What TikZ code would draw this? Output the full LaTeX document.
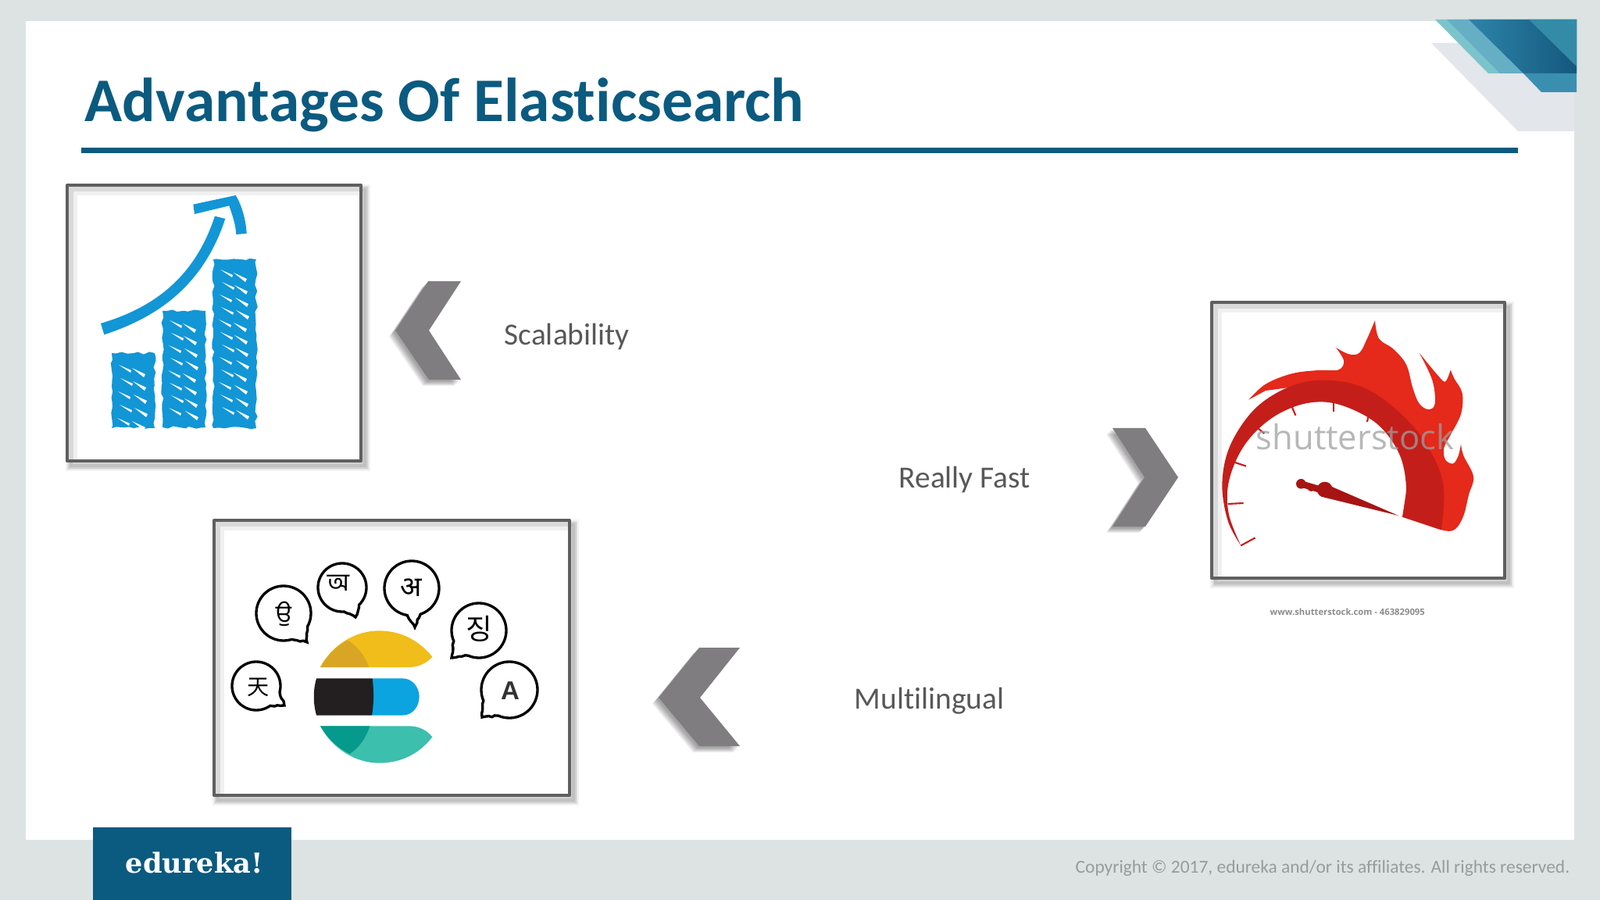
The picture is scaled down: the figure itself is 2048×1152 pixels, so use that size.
\documentclass[tikz,border=0pt]{standalone}
\usepackage{fontspec}
\setmainfont[Ligatures=NoCommon]{Carlito}
\newfontfamily\devafont[Script=Devanagari]{Noto Sans}
\newfontfamily\bengfont[Script=Bengali]{Hind Siliguri}
\newfontfamily\gurufont[Script=Gurmukhi]{Hind Jalandhar}
\newfontfamily\krfont{Noto Sans CJK KR}
\newfontfamily\scfont{Noto Sans CJK SC}
\newfontfamily\slabfont{DejaVu Serif}
\newfontfamily\wmfont{Open Sans}
\newfontfamily\arialfont{Liberation Sans}
\usetikzlibrary{decorations.pathmorphing}
\definecolor{pagebg}{HTML}{DDE3E3}
\definecolor{brand}{HTML}{0B5A80}
\definecolor{labelgray}{HTML}{58585A}
\definecolor{footgray}{HTML}{969C9C}
\definecolor{chevgray}{HTML}{7F7D80}
\definecolor{framegray}{HTML}{5F5F5F}
\definecolor{barblue}{HTML}{1296D6}
\definecolor{flamered}{HTML}{E5291A}
\definecolor{bandred}{HTML}{C41E1A}
\definecolor{needlered}{HTML}{A81414}
\definecolor{cornshadow}{HTML}{E3E6EA}
\definecolor{cornA}{HTML}{7CC4CC}
\definecolor{cornB}{HTML}{66AEC4}
\definecolor{cornC}{HTML}{2E84A9}
\definecolor{cornD}{HTML}{14587E}
\definecolor{cornE}{HTML}{3A8FB0}
\definecolor{cornF}{HTML}{338BA8}
\definecolor{esyellow}{HTML}{F0BD1A}
\definecolor{esamber}{HTML}{D8A624}
\definecolor{esblue}{HTML}{0BA4E0}
\definecolor{esblack}{HTML}{231F20}
\definecolor{esteal}{HTML}{3DBFAD}
\definecolor{esdteal}{HTML}{069A8D}
\tikzset{
  px/.style={x=0.01cm,y=-0.01cm},
  zoomed/.style={x=0.01cm/3,y=-0.01cm/3},
  txt/.style={inner sep=0pt,anchor=base west},
  lbl/.style={txt,text=labelgray,font=\fontsize{11.2}{13}\selectfont},
  tickline/.style={draw=bandred,line width=0.6pt},
  rough/.style={decorate,decoration={random steps,segment length=2pt,amplitude=0.5pt}},
  bubbleline/.style={draw=black,fill=white,line width=0.95pt,decorate,decoration={random steps,segment length=1.2pt,amplitude=0.3pt}},
}
% image frame: white ground, soft shadow, inner grey bands
\newcommand\framebase[4]{%
  \foreach \lw/\op in {4pt/.05,3pt/.06,2pt/.07,1pt/.08}
    \draw[black,opacity=\op,line width=\lw] (#1+5,#2+6) rectangle (#3+5,#4+6);
  \fill[white] (#1,#2) rectangle (#3,#4);
  \fill[gray!12] (#1,#2) rectangle (#3,#2+13);
  \fill[gray!12] (#1,#2) rectangle (#1+13,#4);
  \fill[gray!30] (#1,#2) rectangle (#3,#2+8);
  \fill[gray!30] (#1,#2) rectangle (#1+8,#4);
}
\newcommand\frameline[4]{\draw[framegray,line width=1.15pt,line join=round] (#1,#2) rectangle (#3,#4);}
% chevron with blurred shadow to the lower left
\newcommand\chevron[1]{%
  \foreach \s in {8,7,6,5,4,3,2}
    \fill[black,opacity=.06,shift={(-\s,\s)}] #1 -- cycle;
  \fill[chevgray] #1 -- cycle;
}
\newcommand\bubble[7]{%
  \pgfmathsetmacro\bta{atan2(#5-#2,#4-#1)}
  \pgfmathsetmacro\bda{\bta+#6}
  \pgfmathsetmacro\bdb{\bta+360-#6}
  \draw[bubbleline] plot[domain=\bda:\bdb,samples=60] ({#1+#3*cos(\x)},{#2+#3*sin(\x)}) -- (#4,#5) -- cycle;
  #7
}
\newcommand\hatchbar[4]{%
  \foreach \yy [count=\i] in {#2,#3,...,#4} {
    \fill[white] ({#1+7+mod(\i*7,5)},\yy) -- ++(16,7) -- ++(-1,3) -- cycle;
    \fill[white] ({#1+29-mod(\i*3,4)},{\yy+4}) -- ++(17,8) -- ++(-2,4) -- cycle;
  }
}
\begin{document}
\begin{tikzpicture}[px]
\useasboundingbox (0,0) rectangle (2048,1152);
\fill[pagebg] (0,0) rectangle (2048,1152);
\fill[white] (33,27) rectangle (2015,1075);

% corner ornament
\fill[cornshadow] (1832,55) -- (1943,168) -- (2015,168) -- (2015,55) -- cycle;
\fill[cornA] (1837,25) -- (1905,94) -- (2018,94) -- (2018,25) -- cycle;
\fill[cornB] (1852,25) -- (1920,94) -- (2018,94) -- (2018,25) -- cycle;
\shade[left color=cornC,right color=cornD] (1880,25) -- (1950,94) -- (2018,94) -- (2018,25) -- cycle;
\fill[cornE] (1950,94) -- (1973,118) -- (2018,118) -- (2018,94) -- cycle;
\fill[cornF] (1957,25) -- (2018,85) -- (2018,25) -- cycle;

% title
\node[txt,text=brand,font=\fontsize{22.6}{26}\selectfont\bfseries] (title) at (108,156) {Advantages Of Elasticsearch};
\fill[brand] (104,189) rectangle (1943,196);

% chart frame
\framebase{86}{237}{462}{590}
\begin{scope}[shift={(60,220)},zoomed]
  \fill[barblue] (207,582) .. controls (380,530) and (560,430) .. (645,170) -- (685,180) .. controls (600,440) and (420,560) .. (220,625) -- cycle;
  \fill[barblue] (562,125) -- (725,90) .. controls (750,130) and (765,190) .. (767,237) -- (727,240) .. controls (725,200) and (710,160) .. (700,130) -- (567,162) -- cycle;
\end{scope}
\fill[barblue,rough] (143,452) rectangle (198,548);
\fill[barblue,rough] (208,398) rectangle (263,547);
\fill[barblue,rough] (273,332) rectangle (328,548);
\hatchbar{143}{467}{484}{535}
\hatchbar{208}{410}{426}{535}
\hatchbar{273}{345}{361}{535}
\frameline{86}{237}{462}{590}

% language frame
\framebase{274}{666}{729}{1018}
\begin{scope}[shift={(260,650)},zoomed]
  \fill[esyellow] (450,612) .. controls (500,520) and (590,472) .. (675,472) .. controls (760,472) and (830,510) .. (880,572) .. controls (860,595) and (830,612) .. (790,612) -- cycle;
  \fill[esamber] (450,612) .. controls (480,560) and (515,530) .. (555,508) .. controls (590,530) and (620,565) .. (637,612) -- cycle;
  \fill[esblue] (650,655) -- (765,655) .. controls (805,655) and (830,690) .. (830,725) .. controls (830,762) and (805,797) .. (765,797) -- (648,797) -- cycle;
  \fill[esblack] (435,655) -- (650,655) .. controls (656,700) and (656,750) .. (648,797) -- (435,797) .. controls (422,750) and (422,700) .. (435,655) -- cycle;
  \fill[esteal] (450,838) -- (790,838) .. controls (830,838) and (860,855) .. (880,880) .. controls (830,945) and (760,980) .. (675,980) .. controls (590,980) and (500,930) .. (450,838) -- cycle;
  \fill[esdteal] (450,838) -- (640,838) .. controls (625,885) and (600,920) .. (563,945) .. controls (515,920) and (480,890) .. (450,838) -- cycle;
\end{scope}
\bubble{363}{785}{35}{393}{822}{22}{\node[font=\gurufont\fontsize{9}{10}\selectfont] (bguru) at (363,786) {ਉ};}
\bubble{438}{752}{31}{455}{790}{20}{\node[font=\bengfont\fontsize{9}{10}\selectfont] (bbeng) at (433,746) {অ};}
\bubble{527}{753}{35}{531}{803}{14}{\node[font=\devafont\fontsize{10.2}{12}\selectfont] (bdeva) at (526,752) {अ};}
\bubble{613}{807}{35}{578}{842}{22}{\node[font=\krfont\fontsize{10.4}{12}\selectfont] (bkor) at (613,805) {징};}
\bubble{652}{883}{36}{617}{918}{22}{\node[font=\arialfont\bfseries\fontsize{9.4}{10}\selectfont,text=black!80] (blat) at (653,884) {A};}
\bubble{328}{878}{31}{364}{903}{20}{\node[font=\scfont\fontsize{8}{10}\selectfont] (bchi) at (331,880) {天};}
\frameline{274}{666}{729}{1018}

% speedometer frame
\framebase{1551}{387}{1926}{740}
\begin{scope}[shift={(1520,340)},zoomed]
  \fill[flamered] plot[smooth,tension=.6] coordinates {(235,515) (300,455) (400,415) (500,402) (580,400) (600,365) (570,315)}
    -- plot[smooth,tension=.6] coordinates {(570,315) (620,340) (660,335) (690,280) (720,210)}
    -- plot[smooth,tension=.6] coordinates {(720,210) (735,280) (790,320) (840,380) (865,470) (890,530) (925,552) (950,530) (940,440) (890,335)}
    -- plot[smooth,tension=.6] coordinates {(890,335) (960,420) (990,445) (1010,400)}
    -- plot[smooth,tension=.6] coordinates {(1010,400) (1025,435) (1055,490) (1050,570) (1010,650) (985,700) (990,745) (1020,760) (1040,730) (1050,685)}
    -- plot[smooth,tension=.6] coordinates {(1050,685) (1060,730) (1098,810) (1080,880) (1060,960) (1030,1010) (990,1018) (900,990) (825,965)}
    -- (850,800) -- (800,650) -- (650,500) -- (450,460) -- (300,480) -- cycle;
  \fill[bandred] plot[smooth,tension=.6] coordinates {(205,1075) (155,980) (133,840) (160,700) (240,570) (340,490) (460,445) (590,445) (700,480) (810,560) (900,660) (965,780) (985,880) (975,1015)}
    -- (900,990) -- (825,965)
    -- plot[smooth,tension=.6] coordinates {(825,965) (840,860) (820,740) (760,640) (680,575) (560,528) (450,530) (340,575) (250,650) (190,740) (155,850) (160,960) (205,1075)} -- cycle;
  \draw[tickline] (205,1075) -- (260,1045);
  \draw[tickline] (155,915) -- (215,912);
  \draw[tickline] (180,755) -- (225,770);
  \draw[tickline] (265,620) -- (295,645);
  \draw[tickline] (400,540) -- (415,575);
  \draw[tickline] (560,525) -- (560,560);
  \draw[tickline] (695,575) -- (690,600);
  \fill[needlered] (436,838) circle (19);
  \fill[needlered] (475,852) circle (15);
  \fill[needlered] (527,860) circle (30);
  \draw[needlered,line width=2.4pt] (436,838) -- (560,875);
  \fill[needlered] (545,845) -- (810,960) -- (525,890) -- cycle;
\end{scope}
\node[txt,font=\wmfont\fontsize{12.4}{14}\selectfont,text=gray!75,opacity=.75] (wm) at (1607,575) {shutterstock};
\node[txt,font=\wmfont\bfseries\fontsize{3.2}{4}\selectfont,text=gray!90] (wmcap) at (1625,787) {www.shutterstock.com - 463829095};
\frameline{1551}{387}{1926}{740}

% chevrons and labels
\chevron{(548,360) -- (590,360) -- (549,423) -- (590,486) -- (549,486) -- (506,423)}
\chevron{(1424,548) -- (1466,548) -- (1508,611) -- (1466,674) -- (1424,674) -- (1465,611)}
\chevron{(895,829) -- (947,829) -- (896,893) -- (947,955) -- (895,955) -- (843,893)}
\node[lbl] (scal) at (645,442) {Scalability};
\node[lbl] (fast) at (1150,624) {Really Fast};
\node[lbl] (multi) at (1093,907) {Multilingual};

% footer
\fill[brand] (119,1059) rectangle (373,1152);
\node[txt,text=white,font=\slabfont\bfseries\fontsize{10}{11}\selectfont] (logo) at (160,1117) {edureka!};
\node[txt,text=footgray,font=\fontsize{6.66}{8}\selectfont] (copy) at (1376,1117) {Copyright © 2017, edureka and/or its affiliates. All rights reserved.};
\end{tikzpicture}
\end{document}
